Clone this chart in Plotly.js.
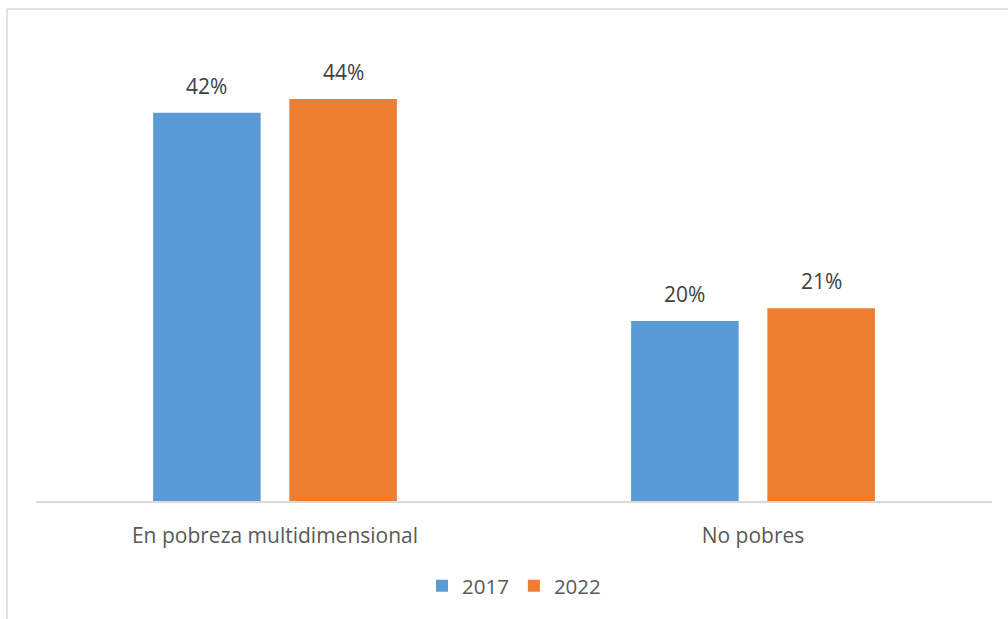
<!DOCTYPE html>
<html>
<head>
<meta charset="utf-8">
<script src="https://cdn.plot.ly/plotly-3.0.1.min.js"></script>
<style>html,body{margin:0;padding:0;background:#fff;}#chart{width:1008px;height:619px;}</style>
</head>
<body>
<div id="chart"></div>
<script>
var categories = ["En pobreza multidimensional", "No pobres"];
var series2017 = [42.3, 19.6];
var series2022 = [43.8, 21.0];
var labels2017 = ["42%", "20%"];
var labels2022 = ["44%", "21%"];
var seriesNames = ["2017", "2022"];

var BAR_W = 0.225;
var OFF_A = -0.255;
var OFF_B = 0.03;
var FONT = "'Open Sans', Lato, sans-serif";

var traces = [
  {type: "bar", name: seriesNames[0], x: categories, y: series2017,
   width: BAR_W, offset: OFF_A, marker: {color: "#5B9BD5"}, hoverinfo: "none"},
  {type: "bar", name: seriesNames[1], x: categories, y: series2022,
   width: BAR_W, offset: OFF_B, marker: {color: "#ED7D31"}, hoverinfo: "none"}
];

var annotations = [];
categories.forEach(function (c, i) {
  annotations.push({x: i + OFF_A + BAR_W / 2, y: series2017[i], xref: "x", yref: "y",
    text: labels2017[i], showarrow: false, yanchor: "bottom", yshift: 11,
    font: {family: FONT, size: 21, color: "#404040"}});
  annotations.push({x: i + OFF_B + BAR_W / 2, y: series2022[i], xref: "x", yref: "y",
    text: labels2022[i], showarrow: false, yanchor: "bottom", yshift: 11,
    font: {family: FONT, size: 21, color: "#404040"}});
});

var layout = {
  width: 1008, height: 619,
  margin: {l: 36, r: 16, t: 42, b: 118},
  paper_bgcolor: "#fff", plot_bgcolor: "#fff",
  barmode: "overlay",
  font: {family: FONT, size: 21, color: "#595959"},
  xaxis: {type: "category", showline: true, linecolor: "#d9d9d9", linewidth: 1.5,
    ticks: "", showgrid: false, zeroline: false, ticklabelstandoff: 15,
    tickfont: {family: FONT, size: 21, color: "#595959"}},
  yaxis: {range: [0, 50], visible: false, showgrid: false, zeroline: false},
  showlegend: true,
  legend: {orientation: "h", x: 0.5, xanchor: "center", y: -0.185, yanchor: "middle",
    font: {family: FONT, size: 20.5, color: "#595959"}, itemwidth: 30, traceorder: "normal"},
  annotations: annotations,
  shapes: [
    {type: "line", xref: "paper", yref: "paper", x0: -0.0303, x1: -0.0303, y0: -0.3, y1: 1.0719,
     line: {color: "#d9d9d9", width: 1.5}},
    {type: "line", xref: "paper", yref: "paper", x0: -0.0303, x1: 1.02, y0: 1.0719, y1: 1.0719,
     line: {color: "#d9d9d9", width: 1.5}}
  ]
};

Plotly.newPlot("chart", traces, layout, {displayModeBar: false, staticPlot: true});
</script>
</body>
</html>
